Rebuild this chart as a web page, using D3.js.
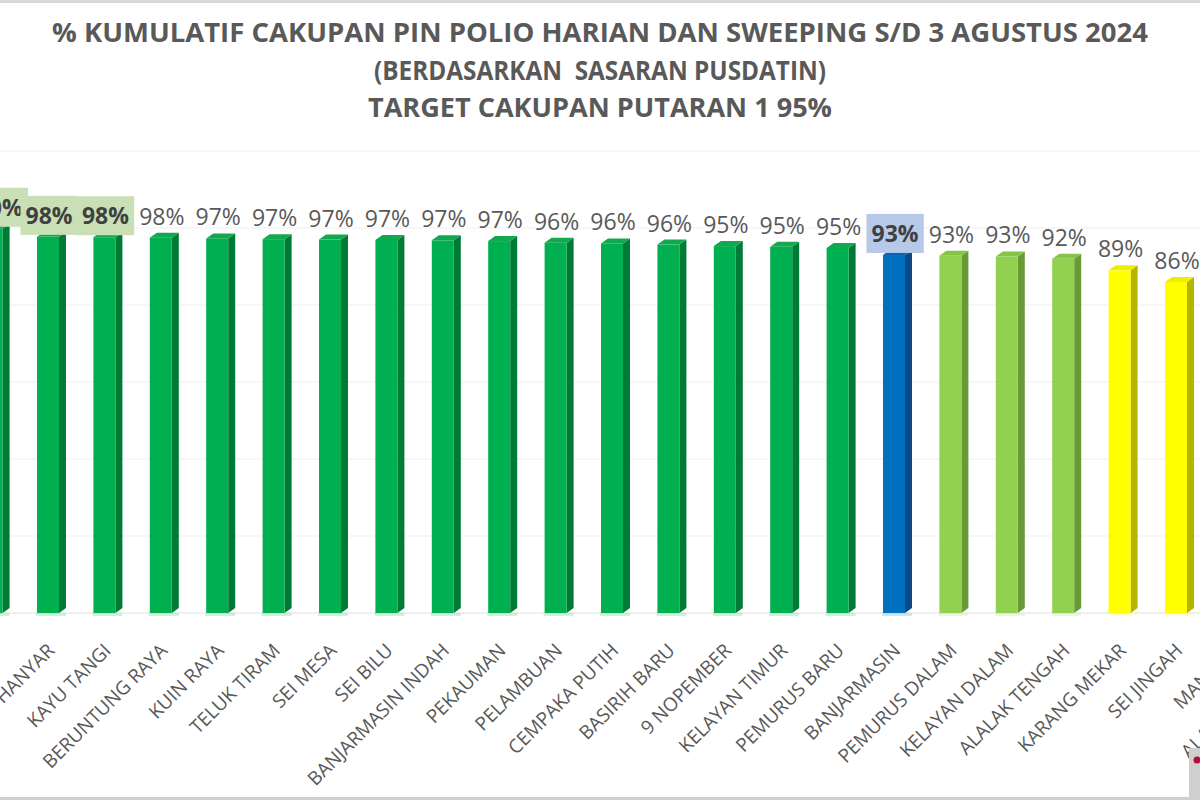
<!DOCTYPE html>
<html>
<head>
<meta charset="utf-8">
<script src="https://cdn.jsdelivr.net/npm/d3@7"></script>
<style>
  html, body { margin: 0; padding: 0; background: #ffffff; }
  svg { display: block; }
</style>
</head>
<body>
<svg id="chart" width="1200" height="800"></svg>
<script>
// ---------- data ----------
const titleLines = [
  "% KUMULATIF CAKUPAN PIN POLIO HARIAN DAN SWEEPING S/D 3 AGUSTUS 2024",
  "(BERDASARKAN  SASARAN PUSDATIN)",
  "TARGET CAKUPAN PUTARAN 1 95%"
];
const categories = [
  "TELUK DALAM", "GADANG HANYAR", "KAYU TANGI", "BERUNTUNG RAYA", "KUIN RAYA",
  "TELUK TIRAM", "SEI MESA", "SEI BILU", "BANJARMASIN INDAH", "PEKAUMAN",
  "PELAMBUAN", "CEMPAKA PUTIH", "BASIRIH BARU", "9 NOPEMBER", "KELAYAN TIMUR",
  "PEMURUS BARU", "BANJARMASIN", "PEMURUS DALAM", "KELAYAN DALAM", "ALALAK TENGAH",
  "KARANG MEKAR", "SEI JINGAH", "MANTUIL", "ALALAK SELATAN"
];
const values = [
  99.8, 97.7, 97.6, 97.5, 97.3,
  97.1, 97.0, 96.9, 96.8, 96.6,
  96.2, 96.0, 95.7, 95.3, 95.1,
  94.8, 93.0, 92.8, 92.6, 92.0,
  89.0, 86.0, 84.0, 79.0
];
const totalCategory = "BANJARMASIN";
const greenHighlightLabels = ["TELUK DALAM", "GADANG HANYAR", "KAYU TANGI"];
const blueHighlightLabels = ["BANJARMASIN"];
const yTicks = [0, 20, 40, 60, 80, 100, 120];

// ---------- styles ----------
const palette = {
  dark:   { front: "#00b050", side: "#007b36", top: "#12a84f" },
  light:  { front: "#92d050", side: "#689a35", top: "#86c445" },
  yellow: { front: "#ffff00", side: "#b5b500", top: "#eeee00" },
  blue:   { front: "#0070c0", side: "#0a4a86", top: "#0866ae" }
};
function groupOf(name, v) {
  if (name === totalCategory) return "blue";
  if (v >= 94.5) return "dark";
  if (v >= 90) return "light";
  return "yellow";
}

const svg = d3.select("#chart");
const W = 1200, H = 800;
const baseY = 613;
const depthX = 7, depthY = 5;

const x = d3.scaleBand()
  .domain(categories)
  .range([-36.6, 1317])
  .paddingInner(0.61)
  .paddingOuter(0.305);

const y = d3.scaleLinear()
  .domain([0, 120])
  .range([baseY, 151]);

const data = categories.map((c, i) => ({ name: c, value: values[i] }));

// page borders
svg.append("rect").attr("x", 0).attr("y", 0).attr("width", W).attr("height", 3).attr("fill", "#d9d9d9");
svg.append("rect").attr("x", 0).attr("y", H - 3).attr("width", W).attr("height", 3).attr("fill", "#d0d0d0");

// title
const titleBaselines = [42, 80, 117];
const titleWidths = [1096, 452, 464];
svg.append("g").selectAll("text")
  .data(titleLines)
  .join("text")
  .attr("x", W / 2)
  .attr("y", (d, i) => titleBaselines[i])
  .attr("text-anchor", "middle")
  .attr("textLength", (d, i) => titleWidths[i])
  .attr("lengthAdjust", "spacingAndGlyphs")
  .attr("font-family", "'Open Sans', sans-serif")
  .attr("font-weight", 700)
  .attr("font-size", 27)
  .attr("fill", "#595959")
  .style("white-space", "pre")
  .text(d => d);

// gridlines
svg.append("g").selectAll("line")
  .data(yTicks)
  .join("line")
  .attr("x1", 0).attr("x2", W)
  .attr("y1", d => y(d)).attr("y2", d => y(d))
  .attr("stroke", d => d === 0 ? "#e2e2e2" : "#efefef")
  .attr("stroke-width", 1.2);

// floor glow under bars
svg.append("g").selectAll("rect")
  .data(data)
  .join("rect")
  .attr("x", d => x(d.name) - 1)
  .attr("y", baseY)
  .attr("width", x.bandwidth() + depthX + 1)
  .attr("height", 3)
  .attr("fill", d => palette[groupOf(d.name, d.value)].front)
  .attr("opacity", 0.18);

// bars (3D columns)
const bars = svg.append("g").selectAll("g")
  .data(data)
  .join("g");

bars.append("polygon") // side face
  .attr("points", d => {
    const x0 = x(d.name) + x.bandwidth();
    const yt = y(d.value);
    return [[x0, yt], [x0 + depthX, yt - depthY], [x0 + depthX, baseY - depthY], [x0, baseY]].join(" ");
  })
  .attr("fill", d => palette[groupOf(d.name, d.value)].side);

bars.append("polygon") // top face
  .attr("points", d => {
    const x0 = x(d.name);
    const yt = y(d.value);
    return [[x0, yt], [x0 + depthX, yt - depthY], [x0 + x.bandwidth() + depthX, yt - depthY], [x0 + x.bandwidth(), yt]].join(" ");
  })
  .attr("fill", d => palette[groupOf(d.name, d.value)].top);

bars.append("rect") // front face
  .attr("x", d => x(d.name))
  .attr("y", d => y(d.value))
  .attr("width", x.bandwidth())
  .attr("height", d => baseY - y(d.value))
  .attr("fill", d => palette[groupOf(d.name, d.value)].front);

// value labels
const fmt = v => Math.round(v) + "%";
const labels = svg.append("g").selectAll("g")
  .data(data)
  .join("g")
  .attr("transform", d => `translate(${x(d.name) + x.bandwidth() / 2 + 1},${y(d.value) - depthY - 8})`);

labels.each(function(d) {
  const g = d3.select(this);
  const hl = greenHighlightLabels.includes(d.name) ? "#c9dfb6" :
             blueHighlightLabels.includes(d.name) ? "#b7c9e8" : null;
  const t = g.append("text")
    .attr("text-anchor", "middle")
    .attr("font-family", "'Open Sans', sans-serif")
    .attr("font-size", 23)
    .attr("font-weight", hl ? 700 : 400)
    .attr("fill", hl ? "#404040" : "#595959")
    .text(fmt(d.value));
  if (hl) {
    const bb = t.node().getBBox();
    g.insert("rect", "text")
      .attr("x", bb.x - 5)
      .attr("y", bb.y - 3)
      .attr("width", bb.width + 10)
      .attr("height", bb.height + 7)
      .attr("fill", hl);
  }
});

// category axis
const xAxis = d3.axisBottom(x).tickSize(0).tickPadding(0);
const axisG = svg.append("g")
  .attr("transform", `translate(0,${baseY})`)
  .call(xAxis);
axisG.select(".domain").remove();
axisG.selectAll("text")
  .attr("font-family", "'Open Sans', sans-serif")
  .attr("font-size", 19)
  .attr("fill", "#595959")
  .attr("text-anchor", "end")
  .attr("x", 0).attr("y", 0)
  .attr("dy", "0.35em")
  .attr("transform", "translate(3,34) rotate(-45)");

// watermark corner
svg.append("rect").attr("x", 1189).attr("y", 748).attr("width", 11).attr("height", 50).attr("fill", "#cfcfcf");
svg.append("circle").attr("cx", 1197).attr("cy", 760).attr("r", 3.5).attr("fill", "#b01040");
</script>
</body>
</html>
